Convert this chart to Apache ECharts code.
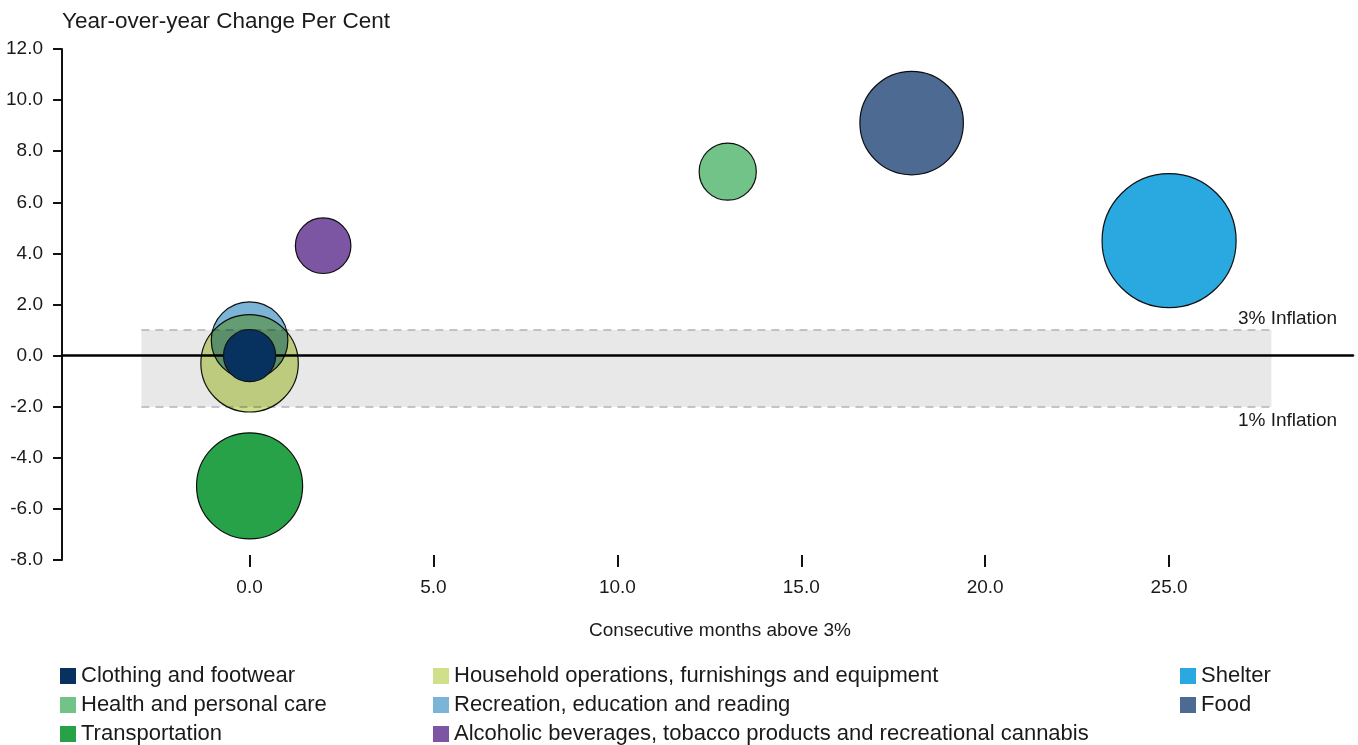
<!DOCTYPE html>
<html>
<head>
<meta charset="utf-8">
<script src="https://cdn.jsdelivr.net/npm/echarts@6/dist/echarts.min.js"></script>
<style>
html,body{margin:0;padding:0;background:#fff;}
#chart{width:1358px;height:745px;}
</style>
</head>
<body>
<div id="chart"></div>
<script>
// ---- data ----
const categories = [
  'Clothing and footwear',
  'Household operations, furnishings and equipment',
  'Shelter',
  'Health and personal care',
  'Recreation, education and reading',
  'Food',
  'Transportation',
  'Alcoholic beverages, tobacco products and recreational cannabis'
];
const monthsAbove3 = [0, 0, 25, 13, 0, 18, 0, 2];
const yoyChange   = [0.0, -0.3, 4.5, 7.2, 0.6, 9.1, -5.1, 4.3];
const weights     = [4.5, 15.7, 29.7, 5.4, 9.7, 17.7, 18.6, 5.1];
const xTickValues = [0, 5, 10, 15, 20, 25];
const bandTop = 1.0, bandBottom = -2.0;
const bandLabels = ['3% Inflation', '1% Inflation'];

// ---- style ----
const colors = ['#07325f', '#cfdf8a', '#29a9e0', '#72c387', '#7bb4d6', '#4d6a92', '#28a249', '#7c55a3'];
const NARROW = '"Liberation Sans Narrow","Arial Narrow","Liberation Sans",Arial,sans-serif';
const REG = '"Liberation Sans",Arial,sans-serif';
const NARROW_SIZE = 19;
const SIZE_K = 24.6;
const X_MIN = -5.1, X_MAX = 30;
const BAND_X0 = -2.94, BAND_X1 = 27.78, LABEL_X = 29.57;

const chart = echarts.init(document.getElementById('chart'), null, {renderer: 'canvas'});

const series = categories.map((name, i) => ({
  name: name,
  type: 'scatter',
  data: [[monthsAbove3[i], yoyChange[i], weights[i]]],
  symbolSize: d => SIZE_K * Math.sqrt(d[2]),
  itemStyle: {color: colors[i], opacity: 1, borderColor: '#111', borderWidth: 1.2},
  emphasis: {disabled: true},
  blendMode: i === 0 ? 'source-over' : 'multiply',
  z: i === 0 ? 4 : 2,
  silent: true
}));

series.push({
  name: 'band',
  type: 'scatter',
  data: [],
  silent: true,
  markArea: {
    silent: true,
    z: 1,
    itemStyle: {color: '#e8e8e8', borderWidth: 0},
    data: [[{coord: [BAND_X0, bandTop]}, {coord: [BAND_X1, bandBottom]}]]
  },
  markLine: {
    silent: true,
    z: 1,
    symbol: 'none',
    label: {show: false},
    lineStyle: {type: [8, 6], color: '#aeb3b8', width: 1.5},
    data: [
      [{coord: [BAND_X0, bandTop]}, {coord: [BAND_X1, bandTop]}],
      [{coord: [BAND_X0, bandBottom]}, {coord: [BAND_X1, bandBottom]}]
    ]
  },
  markPoint: {
    silent: true,
    symbol: 'circle',
    symbolSize: 0,
    itemStyle: {color: 'transparent'},
    label: {
      show: true,
      position: 'left',
      distance: 0,
      formatter: p => p.name,
      fontFamily: NARROW,
      fontSize: NARROW_SIZE,
      color: '#1a1a1a'
    },
    data: [
      {name: bandLabels[0], coord: [LABEL_X, bandTop], label: {offset: [0, -11]}},
      {name: bandLabels[1], coord: [LABEL_X, bandBottom], label: {offset: [0, 14]}}
    ]
  }
});

const legendCommon = {
  orient: 'vertical',
  icon: 'rect',
  itemWidth: 16,
  itemHeight: 16,
  itemGap: 7,
  padding: 0,
  height: 95,
  selectedMode: false,
  itemStyle: {borderWidth: 0},
  textStyle: {fontFamily: REG, fontSize: 22, color: '#1a1a1a', lineHeight: 22}
};

const option = {
  animation: false,
  backgroundColor: '#fff',
  title: {
    text: 'Year-over-year Change Per Cent',
    left: 57, top: 5,
    textStyle: {fontFamily: REG, fontSize: 22.5, fontWeight: 'normal', color: '#1a1a1a'}
  },
  legend: [
    Object.assign({}, legendCommon, {left: 60, top: 665, data: [categories[0], categories[3], categories[6]]}),
    Object.assign({}, legendCommon, {left: 433, top: 665, data: [categories[1], categories[4], categories[7]]}),
    Object.assign({}, legendCommon, {left: 1180, top: 665, data: [categories[2], categories[5]]})
  ],
  grid: {left: 62, right: 5, top: 49, bottom: 185, containLabel: false},
  xAxis: [
    {
      type: 'value',
      min: X_MIN, max: X_MAX,
      position: 'bottom',
      offset: -5,
      axisLine: {show: false, onZero: false},
      axisTick: {show: true, length: 12, customValues: xTickValues, lineStyle: {color: '#111', width: 2}},
      axisLabel: {
        customValues: xTickValues,
        formatter: v => v.toFixed(1),
        margin: 23,
        fontFamily: NARROW, fontSize: NARROW_SIZE, color: '#1a1a1a'
      },
      splitLine: {show: false},
      name: 'Consecutive months above 3%',
      nameLocation: 'middle',
      nameGap: 66,
      nameTextStyle: {fontFamily: NARROW, fontSize: NARROW_SIZE, color: '#1a1a1a', padding: [0, 0, 0, 25]}
    },
    {
      type: 'value',
      min: X_MIN, max: X_MAX,
      position: 'top',
      z: 1.5,
      axisLine: {show: true, onZero: true, lineStyle: {color: '#000', width: 2.5}},
      axisTick: {show: false},
      axisLabel: {show: false},
      splitLine: {show: false}
    }
  ],
  yAxis: {
    type: 'value',
    min: -8, max: 12, interval: 2,
    axisLine: {show: true, onZero: false, lineStyle: {color: '#111', width: 2}},
    axisTick: {show: true, length: 9, lineStyle: {color: '#111', width: 2}},
    axisLabel: {
      formatter: v => v.toFixed(1),
      margin: 19,
      fontFamily: NARROW, fontSize: NARROW_SIZE, color: '#1a1a1a'
    },
    splitLine: {show: false}
  },
  series: series
};

chart.setOption(option);
</script>
</body>
</html>
